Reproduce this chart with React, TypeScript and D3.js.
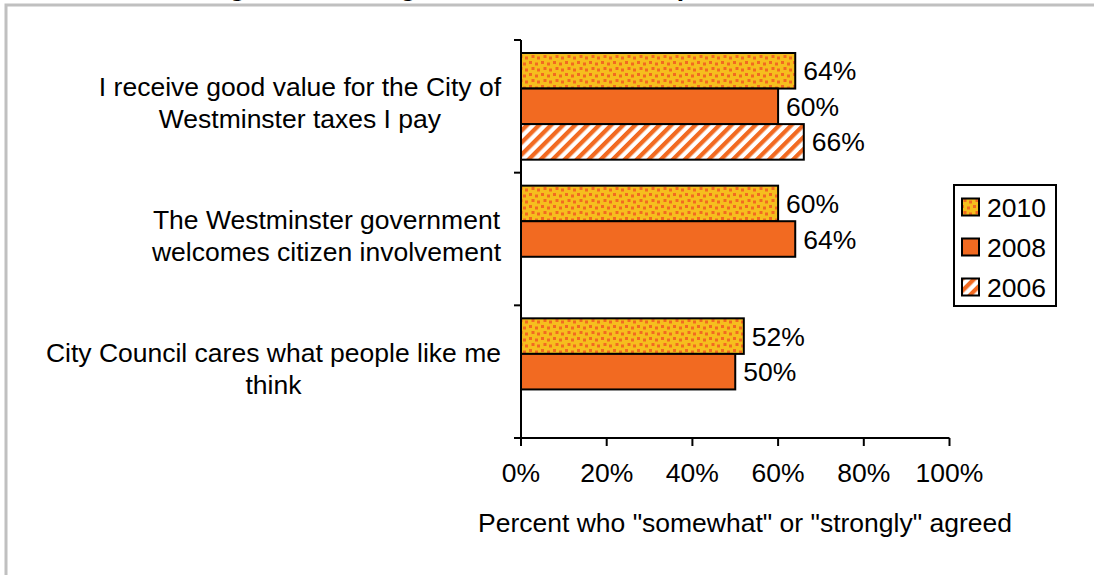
import * as d3 from 'd3';

const categoryLines: string[][] = [
  ['I receive good value for the City of', 'Westminster taxes I pay'],
  ['The Westminster government', 'welcomes citizen involvement'],
  ['City Council cares what people like me', 'think'],
];
const seriesNames = ['2010', '2008', '2006'];
const values2010 = [64, 60, 52];
const values2008 = [60, 64, 50];
const values2006: (number | null)[] = [66, null, null];
const xTicks = [0, 20, 40, 60, 80, 100];
const xTitle = 'Percent who "somewhat" or "strongly" agreed';
// title sits above the visible area, only its descenders show
const chartTitle = 'Rating of the local government and staff performance';

const W = 1094;
const H = 575;
const FONT = 'Arial, "Liberation Sans", sans-serif';
const FS = 26.5;
const ORANGE = '#F26A21';
const YELLOW = '#F6BE1E';

const fills = ['url(#dots)', ORANGE, 'url(#stripes)'];
const seriesValues = [values2010, values2008, values2006];

let ctx: CanvasRenderingContext2D | null = null;
function textWidth(s: string) {
  if (!ctx) ctx = document.createElement('canvas').getContext('2d');
  if (!ctx) return s.length * FS * 0.5;
  ctx.font = `${FS}px ${FONT}`;
  return ctx.measureText(s).width;
}

export default function App() {
  const cats = categoryLines.map((l) => l.join(' '));
  const x = d3.scaleLinear().domain([0, 100]).range([521, 949.5]);
  const y = d3.scaleBand<string>().domain(cats).range([40, 438]);
  const inner = d3.scaleBand<string>().domain(seriesNames).range([13, y.bandwidth() - 13]);
  const x0 = x(0);
  const lineGap = 32;

  return (
    <svg
      width={W}
      height={H}
      style={{ position: 'absolute', left: 0, top: 0, background: '#fff' }}
      fontFamily={FONT}
    >
      <defs>
        <pattern id="dots" patternUnits="userSpaceOnUse" width={12} height={12}>
          <rect width={12} height={12} fill={YELLOW} />
          <rect x={1} y={1} width={3} height={3} fill={ORANGE} />
          <rect x={7} y={2.5} width={3} height={3} fill={ORANGE} />
          <rect x={3.5} y={7} width={3} height={3} fill={ORANGE} />
          <rect x={9} y={8.5} width={3} height={3} fill={ORANGE} />
        </pattern>
        <pattern id="stripes" patternUnits="userSpaceOnUse" width={8.5} height={10} patternTransform="rotate(45)">
          <rect width={8.5} height={10} fill="#fff" />
          <rect width={4.25} height={10} fill={ORANGE} />
        </pattern>
      </defs>

      <rect x={0} y={0} width={W} height={H} fill="#fff" />
      <rect x={6} y={5} width={W + 100} height={H + 100} fill="none" stroke="#C0C0C0" strokeWidth={3} />

      <text x={163} y={-4} fontSize={FS} fontWeight="bold" fill="#000">
        {chartTitle}
      </text>

      {/* bars */}
      {cats.map((c, ci) =>
        seriesNames.map((s, si) => {
          const v = seriesValues[si][ci];
          if (v == null) return null;
          const by = (y(c) || 0) + (inner(s) || 0);
          const bh = inner.bandwidth();
          return (
            <g key={`${ci}-${si}`}>
              <rect x={x0} y={by} width={x(v) - x0} height={bh} fill={fills[si]} stroke="#000" strokeWidth={2} />
              <text x={x(v) + 8} y={by + bh / 2 + 9.5} fontSize={FS} fill="#000">
                {v}%
              </text>
            </g>
          );
        })
      )}

      {/* y axis */}
      <line x1={x0} x2={x0} y1={40} y2={438} stroke="#000" strokeWidth={2} />
      {[...cats.map((c) => y(c) || 0), 438].map((t, i) => (
        <line key={i} x1={x0 - 7} x2={x0} y1={t} y2={t} stroke="#000" strokeWidth={2} />
      ))}

      {/* x axis */}
      <line x1={x0} x2={x(100)} y1={438} y2={438} stroke="#000" strokeWidth={2} />
      {xTicks.map((t) => (
        <g key={t}>
          <line x1={x(t)} x2={x(t)} y1={438} y2={446} stroke="#000" strokeWidth={2} />
          <text x={x(t)} y={482} textAnchor="middle" fontSize={FS} fill="#000">
            {t}%
          </text>
        </g>
      ))}
      <text x={745} y={532} textAnchor="middle" fontSize={FS} fill="#000">
        {xTitle}
      </text>

      {/* category labels */}
      {categoryLines.map((lines, ci) => {
        const maxW = d3.max(lines, (l) => textWidth(l)) || 0;
        const cx = 501 - maxW / 2;
        const cy = (y(cats[ci]) || 0) + y.bandwidth() / 2 - 2;
        return lines.map((l, li) => (
          <text
            key={`${ci}-${li}`}
            x={cx}
            y={cy + (li - (lines.length - 1) / 2) * lineGap + 8}
            textAnchor="middle"
            fontSize={FS}
            fill="#000"
          >
            {l}
          </text>
        ));
      })}

      {/* legend */}
      <rect x={954} y={185} width={102} height={121} fill="#fff" stroke="#000" strokeWidth={2} />
      {seriesNames.map((s, i) => {
        const cy = 207 + i * 40;
        return (
          <g key={s}>
            <rect x={962} y={cy - 8.5} width={17} height={17} fill={fills[i]} stroke="#000" strokeWidth={2} />
            <text x={987} y={cy + 9.5} fontSize={FS} fill="#000">
              {s}
            </text>
          </g>
        );
      })}
    </svg>
  );
}
